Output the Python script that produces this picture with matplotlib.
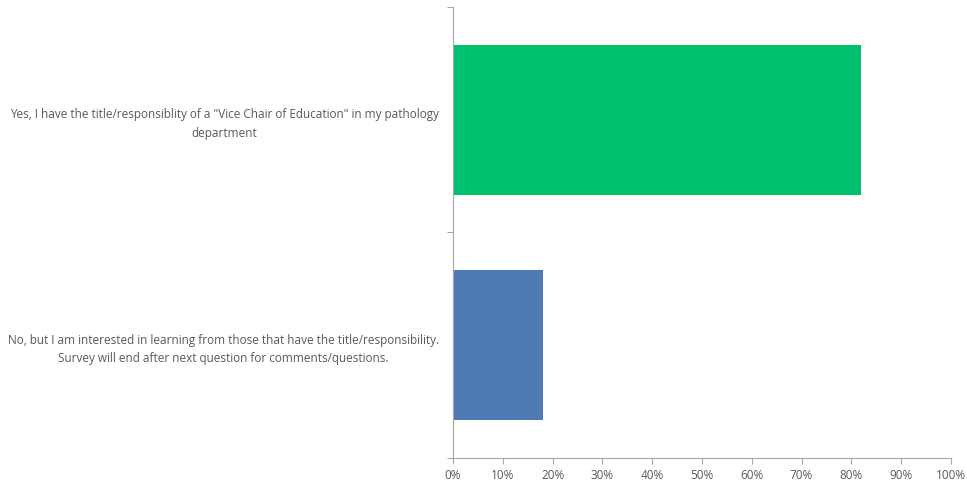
import matplotlib.pyplot as plt
import numpy as np

categories = [
    'No, but I am interested in learning from those that have the title/responsibility.\nSurvey will end after next question for comments/questions.',
    'Yes, I have the title/responsiblity of a "Vice Chair of Education" in my pathology\ndepartment',
]
values = [18.1, 81.9]
colors = ['#4F7BB4', '#00BF6F']
xticks = np.arange(0, 101, 10)

plt.rcParams['font.family'] = ['Open Sans', 'DejaVu Sans']

fig = plt.figure(figsize=(9.67, 4.83), dpi=100)
ax = fig.add_axes([0.4685, 0.0518, 0.5149, 0.9337])

y = np.arange(len(categories))
ax.barh(y, values, height=0.665, color=colors)

ax.set_xlim(0, 100)
ax.set_ylim(-0.5, len(categories) - 0.5)
ax.set_xticks(xticks)
ax.set_xticklabels([f'{v}%' for v in xticks])

# boundaries get the tick marks, labels sit in the middle
ax.set_yticks(np.arange(-0.5, len(categories), 1))
ax.set_yticklabels([])
ax.set_yticks(y, minor=True)
ax.set_yticklabels(categories, minor=True, multialignment='center', linespacing=1.55)
ax.tick_params(axis='y', which='minor', length=0, pad=10)

for s in ['top', 'right']:
    ax.spines[s].set_visible(False)
for s in ['left', 'bottom']:
    ax.spines[s].set_color('#A6A6A6')
ax.tick_params(axis='both', which='major', color='#A6A6A6', length=4)
ax.tick_params(axis='both', which='both', labelcolor='#595959', labelsize=8.5)
ax.tick_params(axis='x', pad=4)

fig.savefig('out.png', dpi=100)
